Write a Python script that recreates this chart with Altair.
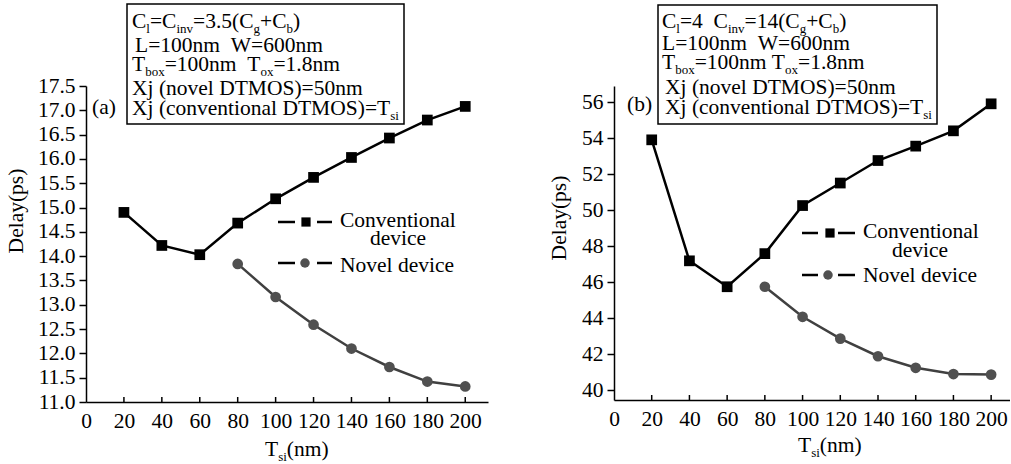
import altair as alt
import pandas as pd

# ---------------- data ----------------
tsi = [20, 40, 60, 80, 100, 120, 140, 160, 180, 200]
tsi_novel = [80, 100, 120, 140, 160, 180, 200]
a_conv = [14.9, 14.22, 14.03, 14.68, 15.18, 15.62, 16.03, 16.43, 16.8, 17.08]
a_novel = [13.84, 13.16, 12.59, 12.1, 11.72, 11.42, 11.32]
b_conv = [53.9, 47.18, 45.74, 47.58, 50.25, 51.5, 52.75, 53.55, 54.4, 55.9]
b_novel = [45.74, 44.07, 42.86, 41.88, 41.24, 40.89, 40.86]
x_ticks = [0, 20, 40, 60, 80, 100, 120, 140, 160, 180, 200]
a_yticks = [11.0, 11.5, 12.0, 12.5, 13.0, 13.5, 14.0, 14.5, 15.0, 15.5, 16.0, 16.5, 17.0, 17.5]
b_yticks = [40, 42, 44, 46, 48, 50, 52, 54, 56]

FONT = "Liberation Serif"
FS = 21.5
SUB = 13
SUBOFF = 5
NOVEL_LINE = "#404040"
NOVEL_PT = "#505050"

# Times-Roman advance widths (per 1000 em), used to place subscripts
TW = {" ": 250, "(": 333, ")": 333, "+": 564, "=": 564, ".": 250, "-": 333,
      "A": 722, "B": 667, "C": 667, "D": 722, "E": 611, "L": 611, "M": 889, "O": 722,
      "S": 556, "T": 611, "W": 944, "X": 722,
      "a": 444, "b": 500, "c": 444, "d": 500, "e": 444, "g": 500, "i": 278, "j": 278,
      "l": 278, "m": 778, "n": 500, "o": 500, "s": 389, "t": 278, "v": 500, "x": 500}
for d in "0123456789":
    TW[d] = 500


def tw(s, fs):
    return sum(TW.get(c, 500) for c in s) * fs / 1000.0


DUMMY = pd.DataFrame({"k": [0]})


def txt(x, y, s, fs=FS, align="left", baseline="alphabetic", angle=0, color="black"):
    props = dict(text=s, font=FONT, fontSize=fs, align=align, baseline=baseline, color=color)
    if angle:
        props["angle"] = angle
    return alt.Chart(DUMMY).mark_text(**props).encode(x=alt.value(x), y=alt.value(y))


def rich(parts, x0, base):
    out = []
    x = x0
    for s, sub in parts:
        fs = SUB if sub else FS
        if s.strip():
            out.append(txt(x, base + (SUBOFF if sub else 0), s, fs))
        x += tw(s, fs)
    return out


def panel(conv, novel, ydom, yticks, yfmt, width, height, xmax, ann):
    dconv = pd.DataFrame({"Tsi": tsi, "Delay": conv})
    dnov = pd.DataFrame({"Tsi": tsi_novel, "Delay": novel})
    dtick = pd.DataFrame({"Tsi": x_ticks[1:]})
    xaxis = alt.Axis(values=x_ticks, title=None, tickSize=0, labelPadding=8,
                     labelFlush=False, labelOverlap=False, labelBound=False,
                     labelFont=FONT, labelFontSize=FS, labelColor="black",
                     domainColor="black", domainWidth=1.5, grid=False)
    yaxis = alt.Axis(values=yticks, format=yfmt, title=None, tickSize=7,
                     labelPadding=4, labelFlush=False, labelOverlap=False, labelBound=False,
                     labelFont=FONT, labelFontSize=FS, labelColor="black",
                     domainColor="black", domainWidth=1.5, tickColor="black",
                     tickWidth=1.5, grid=False)
    xs = alt.Scale(domain=[0, xmax], nice=False, zero=False)
    ys = alt.Scale(domain=ydom, nice=False, zero=False)

    def X():
        return alt.X("Tsi:Q", scale=xs, axis=xaxis)

    def Y():
        return alt.Y("Delay:Q", scale=ys, axis=yaxis)

    layers = [
        alt.Chart(dconv).mark_line(color="black", strokeWidth=2.5).encode(x=X(), y=Y()),
        alt.Chart(dconv).mark_point(shape="square", filled=True, size=115, color="black", opacity=1).encode(x=X(), y=Y()),
        alt.Chart(dnov).mark_line(color=NOVEL_LINE, strokeWidth=2.5).encode(x=X(), y=Y()),
        alt.Chart(dnov).mark_point(shape="circle", filled=True, size=115, color=NOVEL_PT, opacity=1).encode(x=X(), y=Y()),
        alt.Chart(dtick).mark_rule(color="black", strokeWidth=1.5).encode(
            x=X(), y=alt.value(height), y2=alt.value(height - 5)),
    ]
    layers += ann
    return alt.layer(*layers).properties(width=width, height=height)


def legend(x_d1, x_sq, x_d2, y_c, x_txt, b_c, x_dev, b_dev, y_n, x_ci, b_n):
    items = []
    for (y, col, shape, xc, sz) in [(y_c, "black", "square", x_sq, 85), (y_n, NOVEL_PT, "circle", x_ci, 90)]:
        items.append(alt.Chart(DUMMY).mark_rule(color="black", strokeWidth=2.5).encode(
            x=alt.value(x_d1[0]), x2=alt.value(x_d1[1]), y=alt.value(y)))
        items.append(alt.Chart(DUMMY).mark_rule(color="black", strokeWidth=2.5).encode(
            x=alt.value(x_d2[0]), x2=alt.value(x_d2[1]), y=alt.value(y)))
        items.append(alt.Chart(DUMMY).mark_point(shape=shape, filled=True, size=sz, color=col, opacity=1).encode(
            x=alt.value(xc), y=alt.value(y)))
    items.append(txt(x_txt, b_c, "Conventional"))
    items.append(txt(x_dev, b_dev, "device", align="center"))
    items.append(txt(x_txt, b_n, "Novel device"))
    return items


# ---------------- panel (a) ----------------
ann_a = [alt.Chart(DUMMY).mark_rect(fill="white", stroke="black", strokeWidth=1.5).encode(
    x=alt.value(41), x2=alt.value(318), y=alt.value(-82), y2=alt.value(38))]
ann_a += rich([("C", 0), ("l", 1), ("=C", 0), ("inv", 1), ("=3.5(C", 0), ("g", 1), ("+C", 0), ("b", 1), (")", 0)], 46, -58)
ann_a += rich([("L=100nm", 0), ("  ", 0), ("W=600nm", 0)], 49, -34)
ann_a += rich([("T", 0), ("box", 1), ("=100nm", 0), ("  ", 0), ("T", 0), ("ox", 1), ("=1.8nm", 0)], 46, -15)
ann_a += rich([("Xj (novel DTMOS)=50nm", 0)], 46, 9)
ann_a += rich([("Xj (conventional DTMOS)=T", 0), ("si", 1)], 46, 29)
ann_a += [txt(6, 28, "(a)")]
ann_a += legend((192, 209), 220, (231, 246), 136, 254, 141, 312, 159, 177, 219, 186)
ann_a += [txt(-69, 125, "Delay(ps)", angle=270, align="center", baseline="middle")]
ann_a += rich([("T", 0), ("si", 1), ("(nm)", 0)], 179, 370)

left = panel(a_conv, a_novel, [11.0, 17.5], a_yticks, ".1f", 402, 316, 212, ann_a)

# ---------------- panel (b) ----------------
ann_b = [alt.Chart(DUMMY).mark_rect(fill="white", stroke="black", strokeWidth=1.5).encode(
    x=alt.value(44), x2=alt.value(323), y=alt.value(-81), y2=alt.value(38))]
ann_b += rich([("C", 0), ("l", 1), ("=4", 0), ("  ", 0), ("C", 0), ("inv", 1), ("=14(C", 0), ("g", 1), ("+C", 0), ("b", 1), (")", 0)], 48, -58)
ann_b += rich([("L=100nm", 0), ("  ", 0), ("W=600nm", 0)], 48, -36)
ann_b += rich([("T", 0), ("box", 1), ("=100nm", 0), (" ", 0), ("T", 0), ("ox", 1), ("=1.8nm", 0)], 48, -17)
ann_b += rich([("Xj (novel DTMOS)=50nm", 0)], 51, 8)
ann_b += rich([("Xj (conventional DTMOS)=T", 0), ("si", 1)], 51, 28)
ann_b += [txt(13, 25, "(b)")]
ann_b += legend((188, 204), 216, (224, 241), 147, 249, 152, 306, 171, 189, 214, 196)
ann_b += [txt(-54, 132, "Delay(ps)", angle=270, align="center", baseline="middle")]
ann_b += rich([("T", 0), ("si", 1), ("(nm)", 0)], 184, 366)

right = panel(b_conv, b_novel, [39.45, 56.89], b_yticks, "d", 396, 314, 210, ann_b)

chart = alt.hconcat(left, right, spacing=126, bounds="flush").properties(
    padding={"left": 6, "top": 3, "right": 0, "bottom": 0},
    background="white"
).configure_view(strokeWidth=0)

chart.save("out.html", embed_options={"renderer": "svg", "actions": False})
